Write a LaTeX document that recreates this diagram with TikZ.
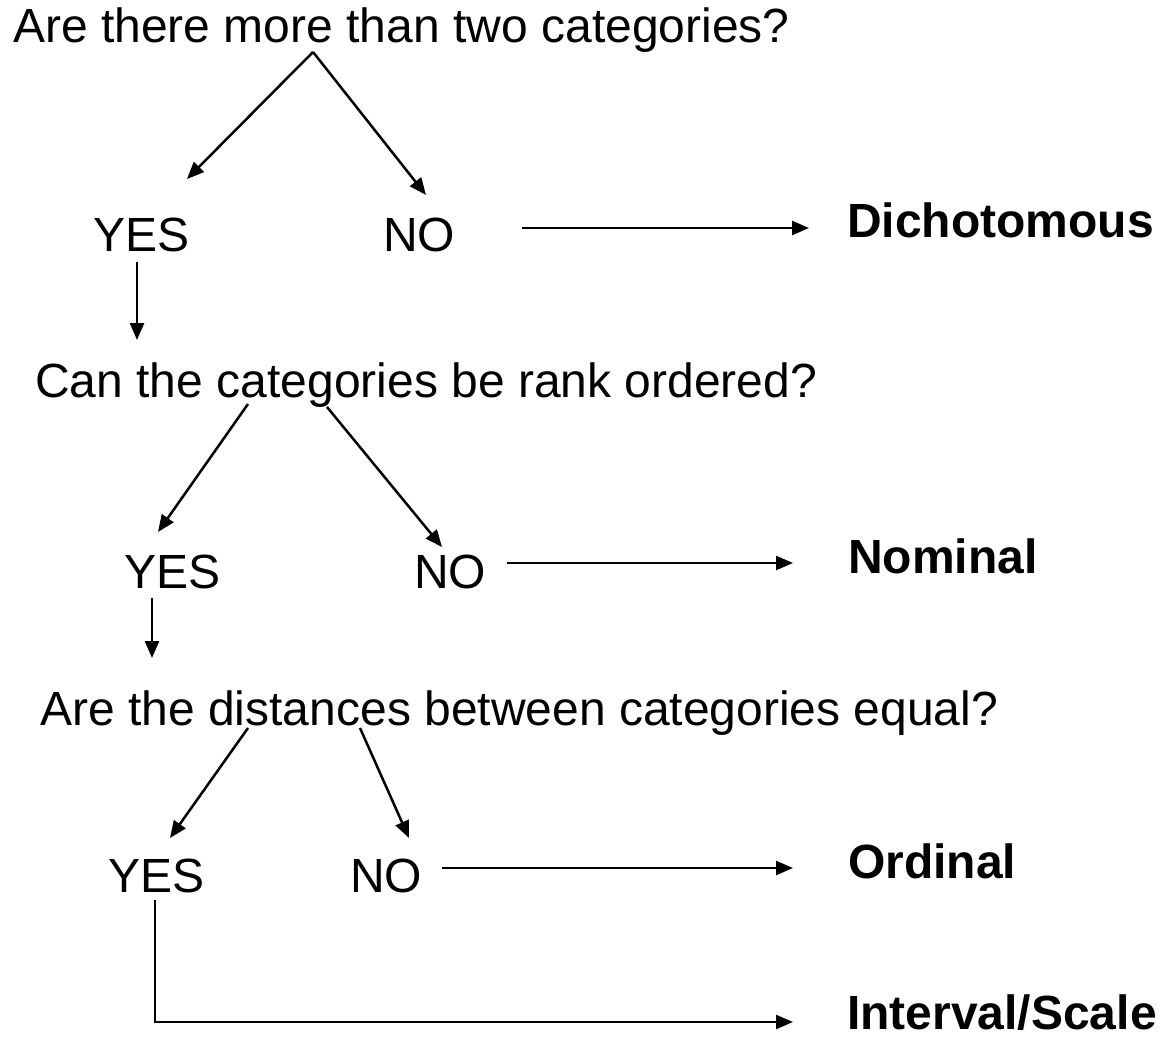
\documentclass[tikz,border=0pt]{standalone}
\usepackage{fontspec}
\setmainfont{Liberation Sans}
\usetikzlibrary{arrows.meta}
\begin{document}
\begin{tikzpicture}[x=1pt,y=-1pt,
  txt/.style={anchor=base west, inner sep=0pt, font=\fontsize{48}{58}\selectfont},
  lbl/.style={anchor=base west, inner sep=0pt, font=\fontsize{48}{58}\selectfont\bfseries},
  arr/.style={line width=2.5pt, -{Triangle[length=17pt,width=14pt]}}]
\useasboundingbox (0,0) rectangle (1159,1038);
% texts
\node[txt] (q1) at (13,43) {Are there more than two categories?};
\node[txt] (yes1) at (93,251) {YES};
\node[txt] (no1) at (383,251) {NO};
\node[lbl] (dich) at (847,237) {Dichotomous};
\node[txt] (q2) at (35,397) {Can the categories be rank ordered?};
\node[txt] (yes2) at (124,588) {YES};
\node[txt] (no2) at (414,588) {NO};
\node[lbl] (nom) at (848,573) {Nominal};
\node[txt] (q3) at (40,725) {Are the distances between categories equal?};
\node[txt] (yes3) at (108,892) {YES};
\node[txt] (no3) at (350,892) {NO};
\node[lbl] (ord) at (848,878) {Ordinal};
\node[lbl] (int) at (847,1029) {Interval/Scale};
% connector end points
\coordinate (q1a) at (313,52);
\coordinate (yes1t) at (187,179);
\coordinate (no1t) at (426,195);
\coordinate (no1r) at (522,228);
\coordinate (dichl) at (809,228);
\coordinate (yes1b) at (137,262);
\coordinate (q2t) at (137,340);
\coordinate (q2l) at (248,404);
\coordinate (q2r) at (327,407);
\coordinate (yes2t) at (158,532);
\coordinate (no2t) at (442,547);
\coordinate (no2r) at (507,563);
\coordinate (noml) at (793,563);
\coordinate (yes2b) at (152,598);
\coordinate (q3t) at (152,658);
\coordinate (q3l) at (248,728);
\coordinate (q3r) at (360,728);
\coordinate (yes3t) at (170,838);
\coordinate (no3t) at (409,838);
\coordinate (no3r) at (442,868);
\coordinate (ordl) at (793,868);
\coordinate (yes3b) at (155,900);
\coordinate (intl) at (793,1022);
% connectors
\draw[arr] (q1a) -- (yes1t);
\draw[arr] (q1a) -- (no1t);
\draw[arr] (no1r) -- (dichl);
\draw[arr] (yes1b) -- (q2t);
\draw[arr] (q2l) -- (yes2t);
\draw[arr] (q2r) -- (no2t);
\draw[arr] (no2r) -- (noml);
\draw[arr] (yes2b) -- (q3t);
\draw[arr] (q3l) -- (yes3t);
\draw[arr] (q3r) -- (no3t);
\draw[arr] (no3r) -- (ordl);
\draw[arr] (yes3b) |- (intl);
\end{tikzpicture}
\end{document}
